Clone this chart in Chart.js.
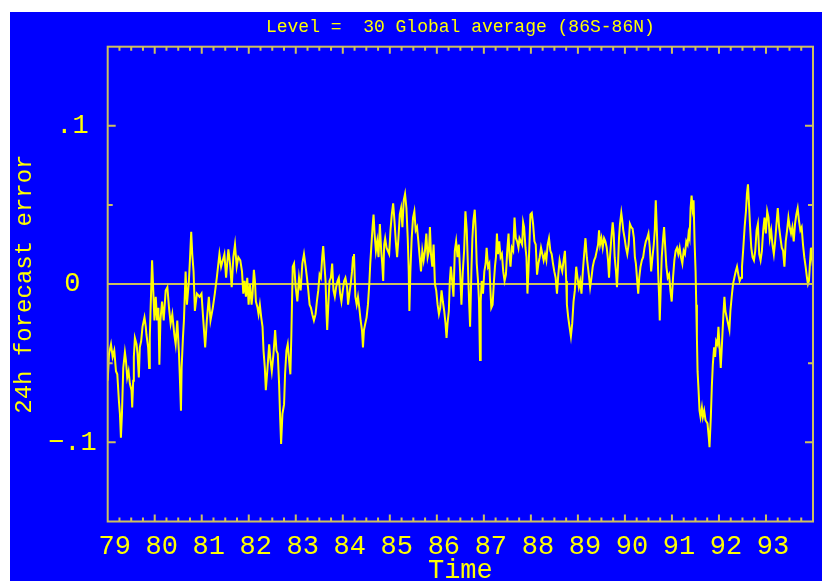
<!DOCTYPE html>
<html>
<head>
<meta charset="utf-8">
<script src="https://cdn.jsdelivr.net/npm/chart.js@4.4.1/dist/chart.umd.min.js"></script>
<style>
  html, body { margin: 0; padding: 0; background: #ffffff; }
  #wrap { position: absolute; left: 10px; top: 12px; width: 812px; height: 569px; background: #0000ff; }
</style>
</head>
<body>
<div id="wrap"><canvas id="errChart" width="812" height="569"></canvas></div>
<script>
// time in years (79 = 1979)
var times = [
  79.000, 79.028, 79.070, 79.105, 79.140, 79.176, 79.204, 79.239, 79.260, 79.281,
  79.303, 79.331, 79.366, 79.387, 79.415, 79.444, 79.472, 79.507, 79.521, 79.542,
  79.556, 79.578, 79.613, 79.634, 79.662, 79.683, 79.712, 79.740, 79.782, 79.810,
  79.824, 79.860, 79.881, 79.895, 79.909, 79.944, 79.966, 79.994, 80.022, 80.050,
  80.078, 80.099, 80.121, 80.156, 80.191, 80.233, 80.269, 80.304, 80.339, 80.374,
  80.417, 80.445, 80.480, 80.516, 80.537, 80.558, 80.572, 80.600, 80.621, 80.657,
  80.685, 80.727, 80.755, 80.776, 80.798, 80.826, 80.854, 80.897, 80.953, 80.995,
  81.038, 81.073, 81.108, 81.151, 81.186, 81.235, 81.278, 81.320, 81.376, 81.412,
  81.482, 81.518,
  81.566, 81.602, 81.637, 81.672, 81.707, 81.743, 81.778, 81.820, 81.856, 81.884,
  81.912, 81.940, 81.968, 81.997, 82.025, 82.060, 82.081, 82.109, 82.131, 82.152,
  82.187, 82.208, 82.236, 82.265, 82.293, 82.314, 82.342, 82.363, 82.399, 82.434,
  82.462, 82.490, 82.526, 82.561, 82.589, 82.617, 82.645, 82.667, 82.688, 82.716,
  82.751, 82.772, 82.801, 82.829, 82.857, 82.885, 82.906, 82.935, 82.963, 82.998,
  83.033, 83.069, 83.104, 83.139, 83.174, 83.210, 83.238, 83.266, 83.294, 83.323,
  83.351, 83.386, 83.421, 83.449, 83.478, 83.506, 83.534, 83.562, 83.583, 83.612,
  83.633, 83.654, 83.668, 83.689, 83.717, 83.746, 83.774, 83.802, 83.830, 83.858,
  83.887, 83.915, 83.943, 83.971, 84.000, 84.028, 84.056, 84.091, 84.112,
  84.140, 84.168, 84.196, 84.217, 84.238, 84.252, 84.267, 84.295, 84.323, 84.351,
  84.379, 84.408, 84.429, 84.450, 84.478, 84.506, 84.535, 84.563, 84.584, 84.605,
  84.633, 84.654, 84.676, 84.704, 84.732, 84.760, 84.788, 84.817, 84.838, 84.859,
  84.880, 84.901, 84.930, 84.958, 84.986, 85.014, 85.042, 85.071, 85.099, 85.127,
  85.155, 85.183, 85.212, 85.240, 85.268, 85.296, 85.324, 85.353, 85.381, 85.402,
  85.416, 85.437, 85.465, 85.494, 85.522, 85.550, 85.578, 85.607, 85.635, 85.663,
  85.691, 85.719, 85.748, 85.776, 85.804, 85.832, 85.853, 85.875, 85.903, 85.931,
  85.959, 85.987, 86.016, 86.044, 86.072, 86.100, 86.128, 86.157, 86.185, 86.206,
  86.227, 86.255, 86.276, 86.298, 86.326, 86.354, 86.382, 86.410, 86.439, 86.467,
  86.495, 86.523, 86.552, 86.580, 86.608, 86.636,
  86.686, 86.707, 86.735, 86.756, 86.777, 86.806, 86.827, 86.848, 86.876, 86.897,
  86.918, 86.933, 86.954, 86.982, 87.010, 87.038, 87.059, 87.088, 87.116, 87.137,
  87.158, 87.186, 87.215, 87.236, 87.257, 87.278, 87.299, 87.327, 87.356, 87.384,
  87.412, 87.440, 87.469, 87.497, 87.525, 87.546, 87.567, 87.595, 87.624, 87.652,
  87.680, 87.708, 87.736, 87.758, 87.786, 87.814, 87.835, 87.856, 87.885, 87.906,
  87.927, 87.948, 87.969, 87.990, 88.019, 88.047, 88.075, 88.103, 88.131, 88.160,
  88.188, 88.216, 88.244, 88.272, 88.301, 88.329, 88.357, 88.385, 88.414, 88.442,
  88.470, 88.498, 88.526, 88.555, 88.583, 88.611, 88.639, 88.667, 88.696, 88.724,
  88.752, 88.766, 88.794, 88.822, 88.851, 88.879, 88.907, 88.935, 88.964, 88.992,
  89.020, 89.048, 89.076, 89.105, 89.133, 89.161, 89.189,
  89.232, 89.260, 89.288, 89.316, 89.345, 89.373, 89.401, 89.429, 89.450, 89.472,
  89.500, 89.528, 89.556, 89.584, 89.613, 89.641, 89.662, 89.683, 89.711, 89.740,
  89.761, 89.782, 89.810, 89.831, 89.852, 89.874, 89.895, 89.923, 89.944, 89.965,
  89.993, 90.022, 90.050, 90.078, 90.106, 90.134, 90.163, 90.191, 90.212, 90.233,
  90.261, 90.283, 90.304, 90.332, 90.360, 90.388, 90.417, 90.445, 90.473, 90.501,
  90.529, 90.558, 90.586, 90.614, 90.635, 90.656, 90.685, 90.706, 90.727, 90.741,
  90.762, 90.783, 90.812, 90.833, 90.854, 90.882, 90.910, 90.939, 90.967, 90.995,
  91.023, 91.051, 91.079, 91.108, 91.136, 91.164, 91.192, 91.221, 91.249, 91.277,
  91.305, 91.333, 91.354, 91.376, 91.397, 91.418, 91.439, 91.460, 91.481, 91.503,
  91.517, 91.531, 91.545, 91.566, 91.587, 91.608, 91.637, 91.658, 91.686, 91.714,
  91.756, 91.784, 91.799, 91.827, 91.848, 91.869, 91.897, 91.918, 91.940, 91.968,
  91.989, 92.010, 92.038, 92.067, 92.095, 92.116, 92.137, 92.165, 92.193, 92.222,
  92.243, 92.271, 92.299, 92.327, 92.356, 92.384, 92.412, 92.440, 92.469, 92.490,
  92.518, 92.546, 92.574, 92.595, 92.617, 92.638, 92.659, 92.687, 92.715, 92.744,
  92.772, 92.800, 92.828, 92.856, 92.885, 92.913, 92.941, 92.969, 92.997, 93.026,
  93.054, 93.082, 93.110, 93.138, 93.167, 93.195, 93.223, 93.251, 93.279, 93.308,
  93.336, 93.364, 93.392, 93.420, 93.449, 93.477, 93.505, 93.533, 93.561, 93.590,
  93.618, 93.646, 93.674, 93.702, 93.731, 93.759, 93.787, 93.815, 93.843, 93.872,
  93.893, 93.914, 93.935, 93.956, 93.977, 93.998
];

// 24h forecast error, global average, level 30
var errors = [
  -0.061, -0.044, -0.038, -0.046, -0.042, -0.055, -0.057, -0.074, -0.082, -0.097,
  -0.082, -0.053, -0.043, -0.048, -0.059, -0.055, -0.063, -0.067, -0.078, -0.061,
  -0.046, -0.034, -0.038, -0.044, -0.059, -0.040, -0.036, -0.027, -0.021, -0.027,
  -0.032, -0.040, -0.053, -0.034, -0.019, 0.015, -0.002, -0.023, -0.008, -0.023,
  -0.015, -0.051, -0.023, -0.011, -0.023, -0.004, -0.002, -0.015, -0.025, -0.019,
  -0.032, -0.038, -0.023, -0.044, -0.061, -0.080, -0.053, -0.034, -0.023, 0.008,
  -0.013, 0.002, 0.019, 0.033, 0.019, 0.008, -0.017, -0.006, -0.008, -0.006,
  -0.025, -0.040, -0.023, -0.008, -0.023, -0.015, -0.006, 0.004, 0.019, 0.011,
  0.019, 0.004,
  0.022, 0.013, -0.002, 0.017, 0.025, 0.011, 0.017, 0.015, 0.008, -0.006,
  0.002, -0.008, 0.004, -0.013, 0.000, -0.013, -0.006, 0.009, 0.002, -0.011,
  -0.015, -0.019, -0.013, -0.021, -0.027, -0.042, -0.053, -0.067, -0.053, -0.038,
  -0.048, -0.055, -0.044, -0.029, -0.042, -0.044, -0.063, -0.084, -0.101, -0.082,
  -0.076, -0.057, -0.042, -0.038, -0.048, -0.057, -0.032, 0.011, 0.013, -0.002,
  -0.011, 0.004, -0.004, 0.013, 0.019, 0.011, 0.004, -0.004, -0.013, -0.015,
  -0.019, -0.023, -0.019, -0.011, -0.004, 0.006, 0.004, 0.017, 0.024, 0.011,
  0.002, -0.019, -0.029, -0.015, 0.002, 0.004, 0.013, -0.004, -0.008, -0.002,
  0.002, 0.004, -0.006, -0.011, -0.004, 0.002, 0.004, -0.002, -0.013,
  -0.006, 0.000, 0.008, 0.017, 0.019, 0.006, -0.008, -0.013, -0.008, -0.015,
  -0.023, -0.029, -0.040, -0.029, -0.025, -0.021, -0.013, 0.000, 0.013, 0.023,
  0.036, 0.044, 0.032, 0.021, 0.027, 0.017, 0.038, 0.021, 0.013, 0.002,
  0.025, 0.029, 0.023, 0.021, 0.019, 0.034, 0.044, 0.051, 0.040, 0.027,
  0.017, 0.029, 0.044, 0.048, 0.036, 0.053, 0.057, 0.048, 0.029, 0.008,
  -0.017, 0.008, 0.029, 0.042, 0.046, 0.034, 0.036, 0.027, 0.017, 0.008,
  0.021, 0.015, 0.021, 0.032, 0.017, 0.021, 0.036, 0.019, 0.011, 0.025,
  0.000, -0.004, -0.013, -0.019, -0.015, -0.004, -0.011, -0.017, -0.025, -0.034,
  -0.025, -0.017, 0.002, 0.011, 0.002, -0.008, 0.021, 0.027, 0.017, 0.025,
  0.008, -0.013, 0.008, 0.021, 0.046, 0.034,
  -0.011, -0.027, 0.008, 0.029, 0.040, 0.047, 0.034, 0.013, 0.002, -0.011,
  -0.048, -0.011, 0.002, -0.006, 0.008, 0.013, 0.023, 0.011, 0.013, -0.002,
  -0.015, -0.013, 0.002, 0.011, 0.017, 0.032, 0.019, 0.027, 0.017, 0.019,
  0.008, 0.002, 0.006, 0.021, 0.032, 0.017, 0.011, 0.023, 0.021, 0.042,
  0.029, 0.027, 0.023, 0.029, 0.027, 0.025, 0.039, 0.036, 0.023, 0.017,
  -0.006, 0.008, 0.025, 0.044, 0.045, 0.038, 0.027, 0.025, 0.006, 0.013,
  0.017, 0.023, 0.019, 0.015, 0.019, 0.015, 0.025, 0.029, 0.021, 0.019,
  0.013, 0.008, 0.004, -0.006, 0.006, 0.015, 0.011, 0.008, 0.015, 0.021,
  0.002, -0.013, -0.021, -0.027, -0.033, -0.025, -0.011, -0.004, 0.011, 0.004,
  -0.002, 0.002, -0.006, 0.008, 0.019, 0.029, 0.017,
  0.006, -0.002, 0.004, 0.011, 0.015, 0.017, 0.021, 0.025, 0.034, 0.025,
  0.029, 0.023, 0.029, 0.027, 0.023, 0.015, 0.004, 0.017, 0.029, 0.039,
  0.032, 0.017, 0.008, -0.002, 0.011, 0.029, 0.038, 0.045, 0.040, 0.034,
  0.029, 0.023, 0.019, 0.025, 0.038, 0.036, 0.035, 0.029, 0.017, 0.013,
  0.002, -0.006, 0.004, 0.011, 0.015, 0.017, 0.023, 0.027, 0.029, 0.032,
  0.023, 0.008, 0.017, 0.025, 0.034, 0.053, 0.029, 0.008, -0.008, -0.023,
  -0.002, 0.017, 0.029, 0.036, 0.025, 0.011, 0.004, 0.006, -0.004, -0.011,
  0.004, 0.015, 0.021, 0.023, 0.019, 0.023, 0.017, 0.013, 0.021, 0.019,
  0.027, 0.025, 0.032, 0.029, 0.048, 0.056, 0.048, 0.053, 0.027, 0.008,
  -0.013, -0.034, -0.055, -0.067, -0.080, -0.084, -0.078, -0.084, -0.080, -0.086,
  -0.088, -0.097, -0.103, -0.084, -0.065, -0.051, -0.040, -0.046, -0.036, -0.038,
  -0.027, -0.038, -0.053, -0.036, -0.019, -0.008, -0.017, -0.021, -0.025, -0.029,
  -0.017, -0.008, 0.000, 0.004, 0.008, 0.011, 0.006, 0.002, 0.004, 0.011,
  0.023, 0.036, 0.046, 0.057, 0.063, 0.051, 0.038, 0.023, 0.017, 0.015,
  0.021, 0.034, 0.038, 0.019, 0.015, 0.021, 0.034, 0.042, 0.032, 0.046,
  0.042, 0.029, 0.034, 0.025, 0.019, 0.027, 0.038, 0.048, 0.036, 0.029,
  0.023, 0.021, 0.011, 0.027, 0.034, 0.042, 0.036, 0.032, 0.036, 0.027,
  0.038, 0.044, 0.048, 0.040, 0.034, 0.036, 0.025, 0.017, 0.011, 0.004,
  0.000, 0.002, 0.013, 0.023, 0.017, 0.023
];

var yearLabels = ['79', '80', '81', '82', '83', '84', '85', '86', '87', '88', '89', '90', '91', '92', '93'];
var yTickValues = [-0.1, 0, 0.1];
var yTickLabels = ['\u2212.1', '0', '.1'];

var yellow = '#ffff00';
var frameColor = 'rgb(205,192,96)';
var monoFont = "'Liberation Mono', 'DejaVu Sans Mono', monospace";

// frame, zero line and inward ticks, drawn through the chart's scales
var framePlugin = {
    id: 'frame',
    beforeDatasetsDraw: function(chart) {
        var ctx = chart.ctx;
        var a = chart.chartArea;
        var y0 = chart.scales.y.getPixelForValue(0);
        ctx.save();
        ctx.strokeStyle = frameColor;
        ctx.lineWidth = 2;
        ctx.beginPath();
        ctx.moveTo(a.left, y0);
        ctx.lineTo(a.right, y0);
        ctx.stroke();
        ctx.restore();
    },
    afterDatasetsDraw: function(chart) {
        var ctx = chart.ctx;
        var a = chart.chartArea;
        var xs = chart.scales.x;
        var ys = chart.scales.y;
        ctx.save();
        ctx.strokeStyle = frameColor;
        ctx.lineWidth = 2;
        ctx.strokeRect(a.left, a.top, a.right - a.left, a.bottom - a.top);

        ctx.beginPath();
        // quarter-year ticks top and bottom
        for (var q = 1; q < 60; q++) {
            var px = xs.getPixelForValue(79 + q / 4);
            var len = (q % 4 === 0) ? 7 : 4;
            ctx.moveTo(px, a.top);
            ctx.lineTo(px, a.top + len);
            ctx.moveTo(px, a.bottom);
            ctx.lineTo(px, a.bottom - len);
        }
        // 0.05 ticks left and right
        for (var k = -2; k <= 2; k++) {
            var py = ys.getPixelForValue(k * 0.05);
            var l = (k % 2 === 0) ? 8 : 5;
            ctx.moveTo(a.left, py);
            ctx.lineTo(a.left + l, py);
            ctx.moveTo(a.right, py);
            ctx.lineTo(a.right - l, py);
        }
        ctx.stroke();
        ctx.restore();
    }
};

var ctxErr = document.getElementById('errChart');

var errChart = new Chart(ctxErr, {
    type: 'line',
    data: {
        datasets: [
            {
                label: '24h forecast error',
                data: times.map(function(t, i) { return { x: t, y: errors[i] }; }),
                borderColor: yellow,
                borderWidth: 2,
                pointRadius: 0,
                tension: 0,
                fill: false
            }
        ]
    },
    plugins: [framePlugin],
    options: {
        responsive: false,
        animation: false,
        devicePixelRatio: 1,
        layout: { padding: { left: 0, right: 5.3, top: 0, bottom: 0 } },
        plugins: {
            legend: { display: false },
            tooltip: { enabled: false },
            title: { display: false }
        },
        scales: {
            x: {
                type: 'linear',
                position: 'bottom',
                min: 79,
                max: 94,
                grid: { display: false, drawTicks: false },
                border: { display: false },
                ticks: {
                    stepSize: 1,
                    autoSkip: false,
                    maxRotation: 0,
                    labelOffset: 7,
                    padding: 9,
                    color: yellow,
                    font: { family: monoFont, size: 27 },
                    callback: function(v) {
                        var idx = Math.round(v) - 79;
                        return yearLabels[idx] !== undefined ? yearLabels[idx] : '';
                    }
                },
                title: {
                    display: true,
                    text: 'Time',
                    color: yellow,
                    font: { family: monoFont, size: 27, lineHeight: 1 },
                    padding: { top: 0, bottom: -3 }
                },
                afterFit: function(scale) { scale.height = 59.5; }
            },
            xTop: {
                type: 'linear',
                position: 'top',
                min: 79,
                max: 94,
                grid: { display: false, drawTicks: false },
                border: { display: false },
                ticks: { display: false },
                title: {
                    display: true,
                    text: 'Level =  30 Global average (86S-86N)',
                    color: yellow,
                    font: { family: monoFont, size: 18, lineHeight: 1 },
                    padding: { top: 6, bottom: 0 }
                },
                afterFit: function(scale) { scale.height = 34.7; }
            },
            y: {
                type: 'linear',
                min: -0.15,
                max: 0.15,
                grid: { display: false, drawTicks: false },
                border: { display: false },
                afterBuildTicks: function(scale) {
                    scale.ticks = yTickValues.map(function(v) { return { value: v }; });
                },
                ticks: {
                    crossAlign: 'center',
                    padding: 11,
                    color: yellow,
                    font: { family: monoFont, size: 27 },
                    callback: function(v) {
                        var idx = yTickValues.indexOf(Math.round(v * 100) / 100);
                        return idx >= 0 ? yTickLabels[idx] : '';
                    }
                },
                title: {
                    display: true,
                    text: '24h forecast error',
                    color: yellow,
                    font: { family: monoFont, size: 24 },
                    padding: { top: 0, bottom: 0 }
                },
                afterFit: function(scale) { scale.width = 97.7; }
            }
        }
    }
});
</script>
</body>
</html>
